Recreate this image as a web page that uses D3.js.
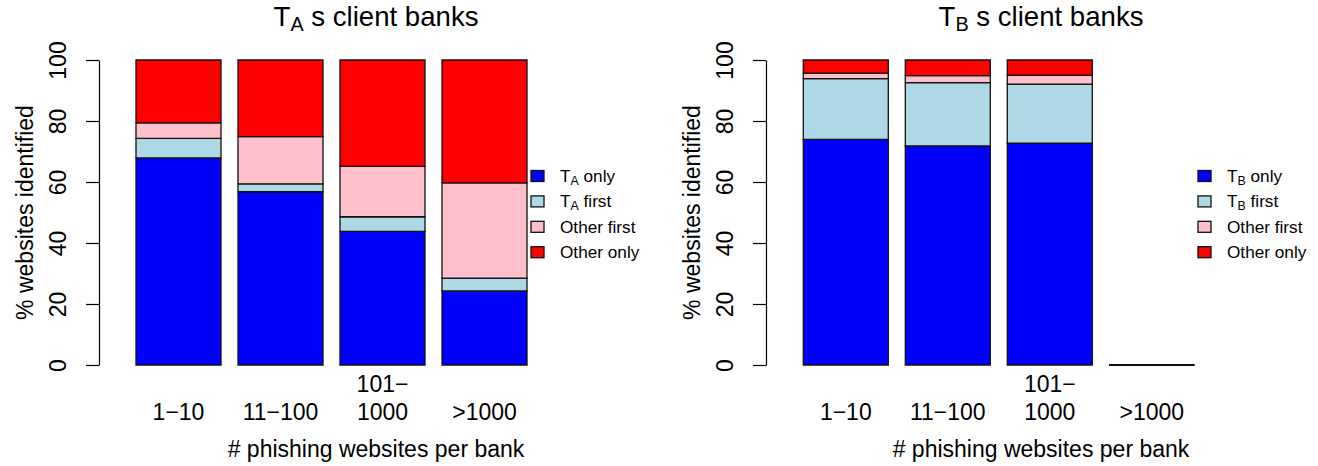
<!DOCTYPE html>
<html>
<head>
<meta charset="utf-8">
<script src="https://cdn.jsdelivr.net/npm/d3@7"></script>
<style>
  html, body { margin: 0; padding: 0; background: #fff; }
  svg { display: block; font-family: "Liberation Sans", Arial, Helvetica, sans-serif; }
</style>
</head>
<body>
<svg id="chart" width="1318" height="466"></svg>
<script>
// Bank-size groups and their axis labels (multi-line where wrapped)
const categories = ["1-10", "11-100", "101-1000", ">1000"];
const tickLabels = [["1\u221210"], ["11\u2212100"], ["101\u2212", "1000"], [">1000"]];
const yTicks = [0, 20, 40, 60, 80, 100];

// Share of phishing websites identified (%), T_A's client banks
const taOnly       = [67.9, 56.8, 43.8, 24.3];
const taFirst      = [6.4, 2.6, 4.8, 4.2];
const taOtherFirst = [5.1, 15.5, 16.5, 31.2];
const taOtherOnly  = [20.6, 25.1, 34.9, 40.3];

// Share of phishing websites identified (%), T_B's client banks
const tbOnly       = [74.0, 71.8, 72.7, 0];
const tbFirst      = [19.9, 20.8, 19.4, 0];
const tbOtherFirst = [1.8, 2.3, 2.9, 0];
const tbOtherOnly  = [4.3, 5.1, 5.0, 0];

const seriesKeys = ["only", "first", "otherFirst", "otherOnly"];
const legendA = ["T_A only", "T_A first", "Other first", "Other only"];
const legendB = ["T_B only", "T_B first", "Other first", "Other only"];
const fills = ["#0000FF", "#ADD8E6", "#FFC0CB", "#FF0000"];

const panels = [
  { title: ["T", "A", " s client banks"], series: [taOnly, taFirst, taOtherFirst, taOtherOnly],
    legend: legendA, axisX: 99, zeroX: 119, titleX: 376, legendX: 531 },
  { title: ["T", "B", " s client banks"], series: [tbOnly, tbFirst, tbOtherFirst, tbOtherOnly],
    legend: legendB, axisX: 766, zeroX: 786.3, titleX: 1041, legendX: 1198 }
];

const unit = 85;            // px per bar width
const yTop = 60, yBottom = 365;
const baseFont = 23;

const svg = d3.select("#chart");

// writes "X_Y rest" style labels with a subscript
function writeSub(textSel, label, subShift) {
  const m = label.match(/^(.*?)_(\w)(.*)$/);
  if (!m) { textSel.text(label); return; }
  textSel.append("tspan").text(m[1]);
  textSel.append("tspan").attr("font-size", "72%").attr("dy", subShift).text(m[2]);
  textSel.append("tspan").attr("dy", -subShift).text(m[3]);
}

panels.forEach(p => {
  const g = svg.append("g");

  const table = categories.map((c, i) => {
    const row = { cat: c };
    seriesKeys.forEach((k, j) => row[k] = p.series[j][i]);
    return row;
  });
  const stacked = d3.stack().keys(seriesKeys)(table);

  const x = d3.scaleBand()
    .domain(categories)
    .range([p.zeroX, p.zeroX + 4.8 * unit])
    .paddingInner(1 / 6)
    .paddingOuter(1 / 12)
    .align(1);
  const y = d3.scaleLinear().domain([0, 100]).range([yBottom, yTop]);

  // stacked bars (paths so zero-height segments still show their outline)
  stacked.forEach((layer, j) => {
    g.append("g").selectAll("path")
      .data(layer)
      .join("path")
      .attr("d", d => {
        const x0 = x(d.data.cat), w = x.bandwidth();
        const y0 = y(d[0]), y1 = y(d[1]);
        return `M${x0},${y0}H${x0 + w}V${y1}H${x0}Z`;
      })
      .attr("fill", fills[j])
      .attr("stroke", "#111")
      .attr("stroke-width", 1.3);
  });

  // y axis
  const yAxis = g.append("g")
    .attr("transform", `translate(${p.axisX},0)`)
    .call(d3.axisLeft(y).tickValues(yTicks).tickSize(13).tickSizeOuter(0).tickFormat(d3.format("d")));
  yAxis.select(".domain").attr("stroke", "#000").attr("stroke-width", 1.2);
  yAxis.selectAll(".tick line").attr("stroke", "#000").attr("stroke-width", 1.2);
  yAxis.selectAll(".tick text")
    .attr("transform", "rotate(-90)")
    .attr("x", 0).attr("y", -33).attr("dy", null)
    .attr("text-anchor", "middle")
    .attr("fill", "#000")
    .attr("font-size", baseFont)
    .attr("font-family", null);

  // x category labels
  const xAxis = g.append("g")
    .call(d3.axisBottom(x).tickSize(0).tickFormat(""));
  xAxis.select(".domain").remove();
  xAxis.selectAll(".tick").each(function (d, i) {
    const lines = tickLabels[i];
    const t = d3.select(this).append("text")
      .attr("fill", "#000")
      .attr("text-anchor", "middle")
      .attr("font-size", baseFont);
    lines.forEach((ln, k) => {
      t.append("tspan")
        .attr("x", 0)
        .attr("y", 420 - (lines.length - 1 - k) * 27.6)
        .text(ln);
    });
  });

  // axis titles
  g.append("text")
    .attr("x", p.titleX).attr("y", 457)
    .attr("text-anchor", "middle")
    .attr("font-size", baseFont)
    .text("# phishing websites per bank");

  g.append("text")
    .attr("transform", `translate(${p.axisX - 66},${(yTop + yBottom) / 2}) rotate(-90)`)
    .attr("text-anchor", "middle")
    .attr("font-size", baseFont)
    .text("% websites identified");

  // panel title
  const title = g.append("text")
    .attr("x", p.titleX).attr("y", 26)
    .attr("text-anchor", "middle")
    .attr("font-size", 27.6);
  writeSub(title, p.title[0] + "_" + p.title[1] + p.title[2], 5);

  // legend
  const leg = g.append("g").attr("transform", `translate(${p.legendX},176)`);
  p.legend.forEach((lab, j) => {
    const row = leg.append("g").attr("transform", `translate(0,${j * 25.4})`);
    row.append("rect")
      .attr("x", 0).attr("y", -5.5).attr("width", 13).attr("height", 11)
      .attr("fill", fills[j]).attr("stroke", "#111").attr("stroke-width", 1.3);
    const t = row.append("text")
      .attr("x", 29).attr("y", 6)
      .attr("font-size", 17.2);
    writeSub(t, lab, 3);
  });
});
</script>
</body>
</html>
